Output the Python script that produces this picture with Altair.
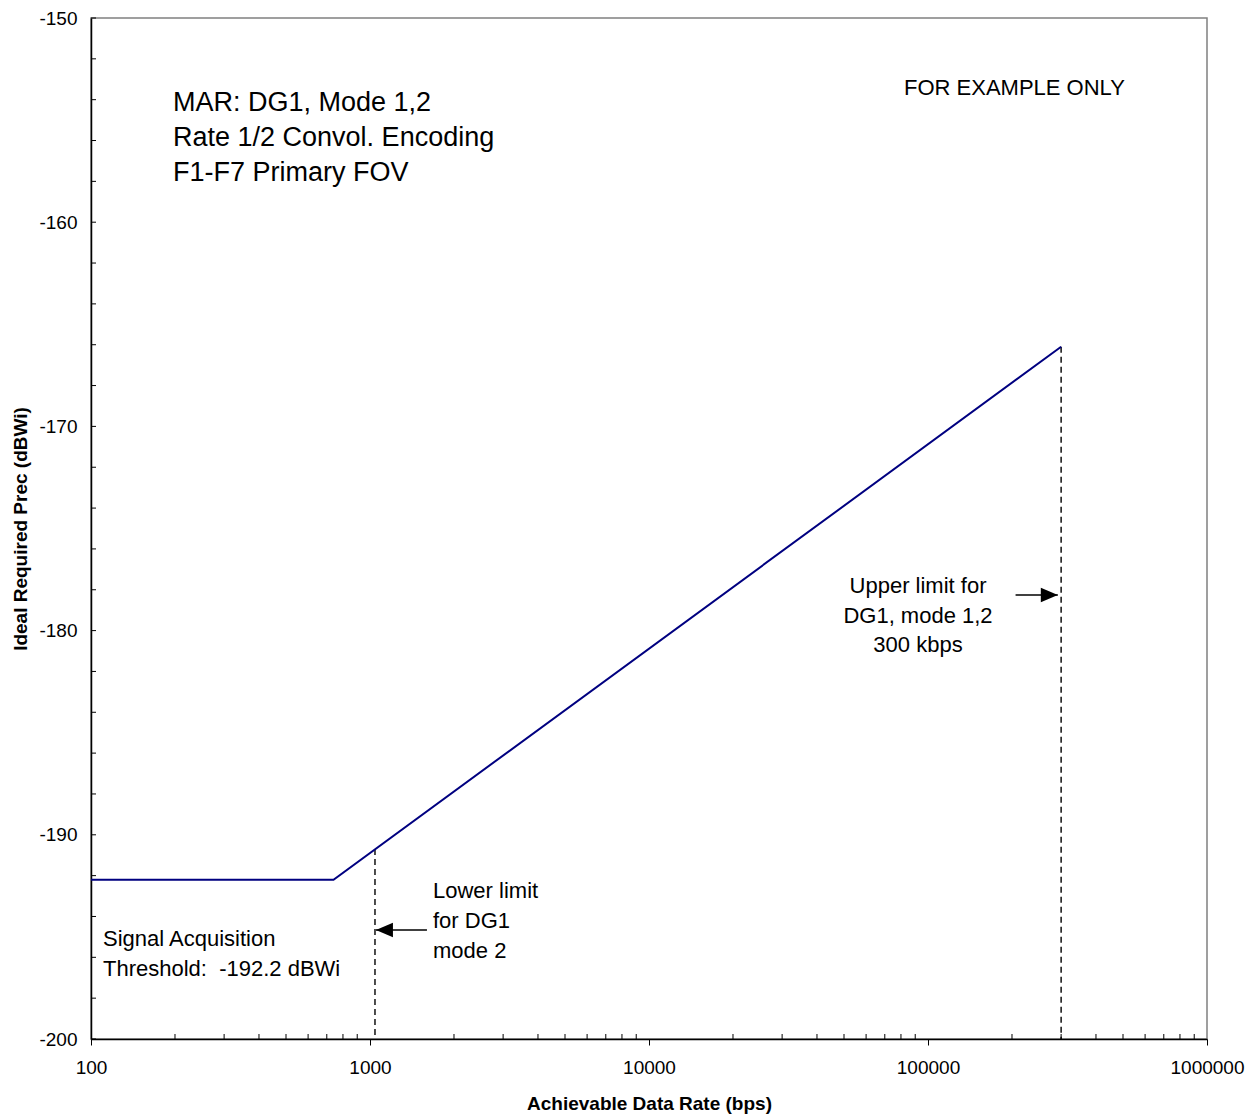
import altair as alt
import pandas as pd

# ---- data ----
rate = [100, 740, 300000]
prec = [-192.2, -192.2, -166.1]

limit_rate = [1042, 300000]
limit_top = [-190.7, -166.1]
limit_bottom = [-200, -200]

x_major = [100, 1000, 10000, 100000, 1000000]
x_minor = [k * 10 ** d for d in range(2, 6) for k in range(2, 10)]
y_major = [-200, -190, -180, -170, -160, -150]
y_ticks = list(range(-200, -149, 2))

arrow_tail = [1600, 206000]
arrow_tip = [1050, 292000]
arrow_prec = [-194.66, -178.26]

W, H = 1116, 1021
FONT = "Liberation Sans"

xs = alt.Scale(type="log", domain=[100, 1000000], nice=False)
ys = alt.Scale(domain=[-200, -150], nice=False, zero=False)

line_df = pd.DataFrame({"rate": rate, "prec": prec})
limit_df = pd.DataFrame({"rate": limit_rate, "top": limit_top, "bottom": limit_bottom})
xminor_df = pd.DataFrame({"v": x_minor})
yticks_df = pd.DataFrame({"v": y_ticks})
arrow_df = pd.DataFrame({"tail": arrow_tail, "tip": arrow_tip, "prec": arrow_prec,
                         "dir": ["left", "right"]})

base_line = alt.Chart(line_df).mark_line(color="#000080", strokeWidth=2).encode(
    x=alt.X("rate:Q", scale=xs,
            axis=alt.Axis(values=x_major, labelExpr="'' + datum.value",
                          title="Achievable Data Rate (bps)",
                          grid=False, tickSize=6, tickColor="black", domainColor="black",
                          domainWidth=1.5, labelFont=FONT, labelFontSize=19, labelColor="black",
                          labelPadding=13, titleFont=FONT, titleFontSize=19, titleFontWeight="bold",
                          titleColor="black", titlePadding=17, labelFlush=False)),
    y=alt.Y("prec:Q", scale=ys,
            axis=alt.Axis(values=y_major, labelExpr="'' + datum.value",
                          title="Ideal Required Prec (dBWi)", grid=False,
                          ticks=False, domainColor="black", domainWidth=1.5, labelFont=FONT,
                          labelFontSize=19, labelColor="black", labelPadding=14,
                          titleFont=FONT, titleFontSize=19, titleFontWeight="bold",
                          titleColor="black", titlePadding=8, labelFlush=False)),
)

limits = alt.Chart(limit_df).mark_rule(color="black", strokeWidth=1.4, strokeDash=[6, 4]).encode(
    x=alt.X("rate:Q", scale=xs), y=alt.Y("top:Q", scale=ys), y2="bottom:Q")

xminor = alt.Chart(xminor_df).mark_rule(color="black", strokeWidth=1).encode(
    x=alt.X("v:Q", scale=xs), y=alt.value(H), y2=alt.value(H - 5))

yticks = alt.Chart(yticks_df).mark_rule(color="black", strokeWidth=1).encode(
    y=alt.Y("v:Q", scale=ys), x=alt.value(0), x2=alt.value(5))

arrow_lines = alt.Chart(arrow_df).mark_rule(color="black", strokeWidth=1.5).encode(
    x=alt.X("tail:Q", scale=xs), x2="tip:Q", y=alt.Y("prec:Q", scale=ys))

head_left = alt.Chart(arrow_df[arrow_df.dir == "left"]).mark_point(
    shape="M2,-0.85L0,0L2,0.85Z", size=289, filled=True, color="black", opacity=1,
    strokeWidth=0).encode(
    x=alt.X("tip:Q", scale=xs), y=alt.Y("prec:Q", scale=ys))
head_right = alt.Chart(arrow_df[arrow_df.dir == "right"]).mark_point(
    shape="M-2,-0.85L0,0L-2,0.85Z", size=289, filled=True, color="black", opacity=1,
    strokeWidth=0).encode(
    x=alt.X("tip:Q", scale=xs), y=alt.Y("prec:Q", scale=ys))


def label(lines, x, y, size, align="left", lh=30):
    return alt.Chart(pd.DataFrame({"t": [0]})).mark_text(
        text=lines, font=FONT, fontSize=size, align=align, baseline="middle",
        lineHeight=lh, color="black").encode(x=alt.value(x), y=alt.value(y))


texts = [
    label(["MAR: DG1, Mode 1,2", "Rate 1/2 Convol. Encoding", "F1-F7 Primary FOV"], 82, 85, 27, lh=35),
    label(["FOR EXAMPLE ONLY"], 813, 70, 22),
    label(["Signal Acquisition", "Threshold:\u00a0 -192.2 dBWi"], 12, 921, 22, lh=30),
    label(["Lower limit", "for DG1", "mode 2"], 342, 873, 22, lh=30),
    label(["Upper limit for", "DG1, mode 1,2", "300 kbps"], 827, 568, 22, align="center", lh=29.5),
]

chart = alt.layer(xminor, yticks, limits, base_line, arrow_lines, head_left, head_right, *texts).properties(
    width=W, height=H,
    autosize=alt.AutoSizeParams(type="none"),
    padding={"left": 91, "top": 18, "right": 41, "bottom": 79},
    background="white",
).configure_view(stroke="#808080", strokeWidth=1.5)

chart.save("out.html", embed_options={"renderer": "svg", "actions": False})
